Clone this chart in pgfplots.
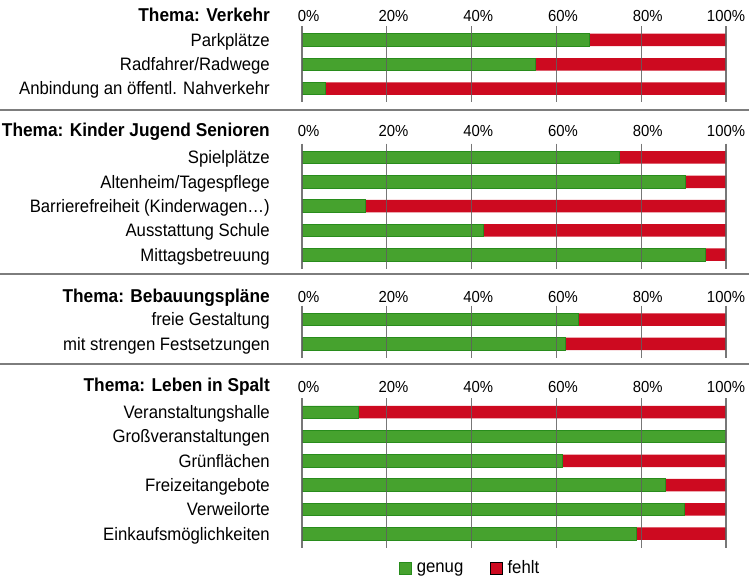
\documentclass[border=0pt]{standalone}
\usepackage{fontspec}
\setmainfont{Liberation Sans}[FakeStretch=0.93]
\usepackage{pgfplots}
\pgfplotsset{compat=1.18}
\definecolor{gfill}{RGB}{70,162,46}
\definecolor{gdraw}{RGB}{40,140,28}
\definecolor{rfill}{RGB}{205,10,32}
\definecolor{sepc}{RGB}{125,125,125}
\definecolor{gridc}{RGB}{95,95,95}
\newcommand\lab{\fontsize{18}{21}\selectfont}
\newcommand\ttl{\fontsize{18.6}{21}\selectfont\bfseries}
\newcommand\tlab{\fontsize{16}{19}\selectfont}
\pgfplotsset{
  grp/.style={
    xbar stacked, bar width=12.5pt,
    x=4.24pt, y=24.3pt, scale only axis,
    xmin=0, xmax=100,
    y dir=reverse,
    anchor=north west,
    axis line style={draw=none},
    major tick length=0pt,
    xtick={0,20,40,60,80,100},
    xticklabels={0\rlap{\%},20\rlap{\%},40\rlap{\%},60\rlap{\%},80\rlap{\%},100\%},
    xticklabel pos=upper,
    xmajorgrids,
    grid style={gridc, line width=1.2pt, opacity=0.85},
    axis on top,
    yticklabel style={font=\lab, anchor=base east, inner sep=0pt, xshift=-32pt, yshift=-6.4pt},
    legend image code/.code={\draw[##1] (0pt,-6pt) rectangle (12pt,6pt); \path (15pt,0pt);},
  },
  gbar/.style={fill=gfill, draw=gdraw, line width=0.8pt},
  rbar/.style={fill=rfill, draw=none},
}
\begin{document}
\begin{tikzpicture}
\path[use as bounding box] (0,0) rectangle (749pt,581pt);
% separators
\draw[sepc, line width=1.6pt] (0,471pt) -- (749pt,471pt);
\draw[sepc, line width=1.6pt] (0,306.8pt) -- (749pt,306.8pt);
\draw[sepc, line width=1.6pt] (0,216.8pt) -- (749pt,216.8pt);
% titles
\node[anchor=base east, inner sep=0pt, font=\ttl] at (270pt,559.4pt) {Thema: Verkehr};
\node[anchor=base east, inner sep=0pt, font=\ttl] at (270pt,444.3pt) {Thema: Kinder Jugend Senioren};
\node[anchor=base east, inner sep=0pt, font=\ttl] at (270pt,278.7pt) {Thema: Bebauungspläne};
\node[anchor=base east, inner sep=0pt, font=\ttl] at (270pt,189pt) {Thema: Leben in Spalt};

\begin{axis}[grp, at={(302pt,554.85pt)}, ymin=-0.57, ymax=2.57,
  ytick={0,1,2},
  yticklabels={Parkplätze, Radfahrer/Radwege, Anbindung an öffentl. Nahverkehr},
  xticklabel style={font=\tlab, anchor=base, yshift=4.5pt}]
\addplot[gbar] coordinates {(67.7,0) (55.1,1) (5.5,2)};
\addplot[rbar] coordinates {(32.3,0) (44.9,1) (94.5,2)};
\end{axis}

\begin{axis}[grp, at={(302pt,437.35pt)}, ymin=-0.57, ymax=4.57,
  ytick={0,1,2,3,4},
  yticklabels={Spielplätze, Altenheim/Tagespflege, {Barrierefreiheit (Kinderwagen\ldots)}, Ausstattung Schule, Mittagsbetreuung},
  xticklabel style={font=\tlab, anchor=base, yshift=6.9pt}]
\addplot[gbar] coordinates {(74.8,0) (90.4,1) (15.0,2) (42.8,3) (95.2,4)};
\addplot[rbar] coordinates {(25.2,0) (9.6,1) (85.0,2) (57.2,3) (4.8,4)};
\end{axis}

\begin{axis}[grp, at={(302pt,275.35pt)}, ymin=-0.57, ymax=1.57,
  ytick={0,1},
  yticklabels={freie Gestaltung, mit strengen Festsetzungen},
  xticklabel style={font=\tlab, anchor=base, yshift=3.4pt}]
\addplot[gbar] coordinates {(65.3,0) (62.1,1)};
\addplot[rbar] coordinates {(34.7,0) (37.9,1)};
\end{axis}

\begin{axis}[grp, at={(302pt,182.65pt)}, ymin=-0.57, ymax=5.57,
  ytick={0,1,2,3,4,5},
  yticklabels={Veranstaltungshalle, Großveranstaltungen, Grünflächen, Freizeitangebote, Verweilorte, Einkaufsmöglichkeiten},
  xticklabel style={font=\tlab, anchor=base, yshift=6.3pt},
  legend columns=2,
  legend cell align=left,
  legend style={draw=none, fill=none, inner sep=0pt, outer sep=0pt,
    at={(axis description cs:0,0)}, anchor=west, xshift=97pt, yshift=-20.5pt,
    font=\lab, nodes={inner sep=2pt},
    /tikz/every even column/.append style={column sep=25pt}}]
\addplot[gbar] coordinates {(13.4,0) (100,1) (61.3,2) (85.7,3) (90.2,4) (78.8,5)};
\addplot[rbar] coordinates {(86.6,0) (0,1) (38.7,2) (14.3,3) (9.8,4) (21.2,5)};
\legend{genug, fehlt}
\end{axis}
\end{tikzpicture}
\end{document}
